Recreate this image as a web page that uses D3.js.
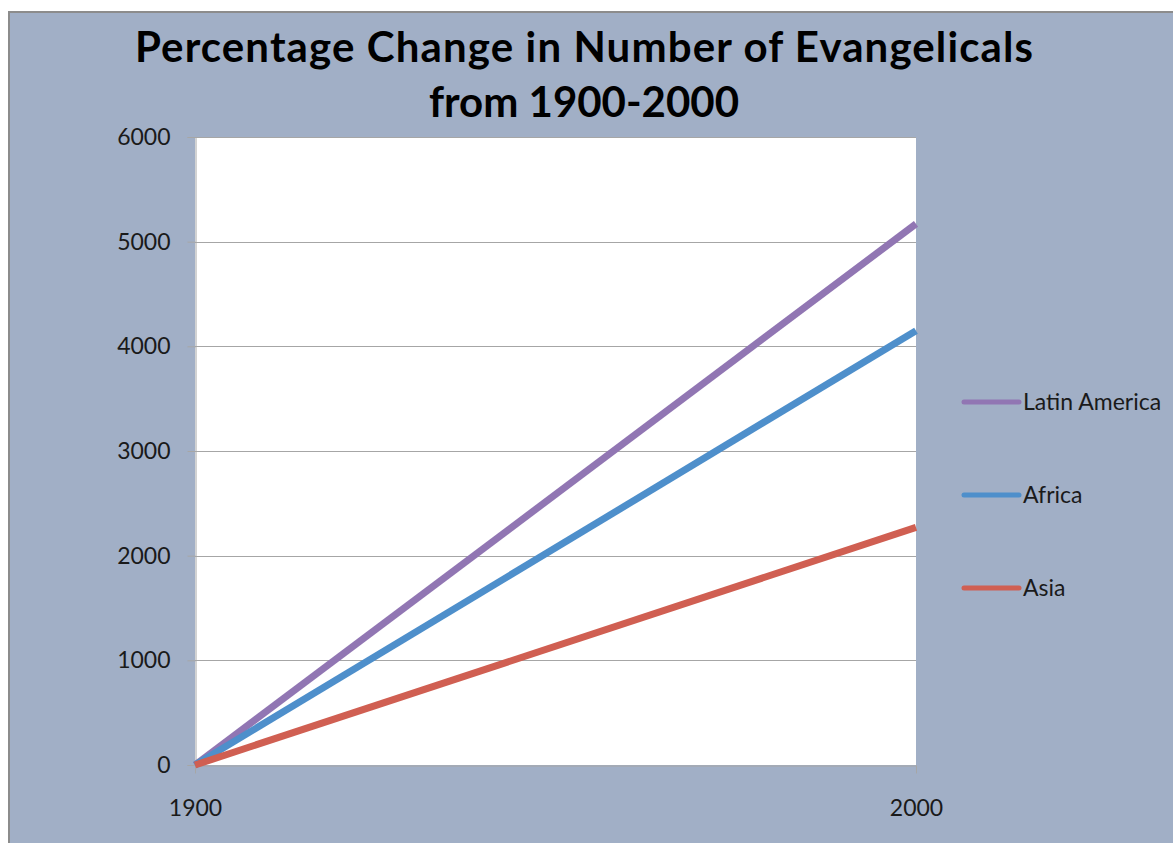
<!DOCTYPE html>
<html>
<head>
<meta charset="utf-8">
<script src="https://cdn.jsdelivr.net/npm/d3@7"></script>
<style>
  html, body { margin: 0; padding: 0; background: #fff; }
  svg text { font-family: Lato, "Open Sans", sans-serif; }
</style>
</head>
<body>
<script>
// data
const years = ["1900", "2000"];
const seriesNames = ["Latin America", "Africa", "Asia"];
const latinAmerica = [0, 5170];
const africa = [0, 4150];
const asia = [0, 2270];
const yTicks = [0, 1000, 2000, 3000, 4000, 5000, 6000];
const titleLines = ["Percentage Change in Number of Evangelicals", "from 1900-2000"];

const width = 1173, height = 843;
const plot = { left: 195, right: 916, top: 137, bottom: 765 };
const colors = ["#9176b3", "#4e8fcb", "#d05f52"];
const titleWidths = [898, 310];

const svg = d3.select("body").append("svg")
    .attr("width", width)
    .attr("height", height);

// chart background, the picture is cropped on right/bottom
svg.append("rect")
    .attr("x", 9).attr("y", 12)
    .attr("width", width).attr("height", height)
    .attr("fill", "#a1afc6")
    .attr("stroke", "#8c8c8c")
    .attr("stroke-width", 2);

// title
svg.append("g").selectAll("text")
    .data(titleLines)
    .join("text")
    .attr("x", 584)
    .attr("y", (d, i) => 62 + i * 55)
    .attr("text-anchor", "middle")
    .attr("font-size", 42)
    .attr("font-weight", "bold")
    .attr("textLength", (d, i) => titleWidths[i])
    .attr("lengthAdjust", "spacing")
    .attr("fill", "#000")
    .text(d => d);

const x = d3.scalePoint().domain(years).range([plot.left, plot.right]);
const y = d3.scaleLinear().domain([0, 6000]).range([plot.bottom, plot.top]);

svg.append("rect")
    .attr("x", plot.left).attr("y", plot.top)
    .attr("width", plot.right - plot.left)
    .attr("height", plot.bottom - plot.top)
    .attr("fill", "#fff");

// gridlines
svg.append("g")
    .selectAll("line")
    .data(yTicks.filter(d => d > 0))
    .join("line")
    .attr("x1", plot.left).attr("x2", plot.right)
    .attr("y1", d => Math.round(y(d)) + 0.5).attr("y2", d => Math.round(y(d)) + 0.5)
    .attr("stroke", "#a6a6a6");

// y axis
const yAxis = svg.append("g")
    .attr("transform", `translate(${plot.left + 0.5},0)`)
    .call(d3.axisLeft(y).tickValues(yTicks).tickSize(8).tickPadding(17).tickFormat(d3.format("d")));
yAxis.select(".domain").attr("stroke", "#a6a6a6");
yAxis.selectAll(".tick line").attr("stroke", "#a6a6a6");
yAxis.selectAll(".tick text")
    .attr("font-size", 23)
    .attr("fill", "#1a1a1a")
    .attr("font-family", "Lato, 'Open Sans', sans-serif");

// x axis
const xAxis = svg.append("g")
    .attr("transform", `translate(0,${plot.bottom + 0.5})`)
    .call(d3.axisBottom(x).tickSize(8).tickPadding(26).tickSizeOuter(0));
xAxis.select(".domain").attr("stroke", "#a6a6a6");
xAxis.selectAll(".tick line").attr("stroke", "#a6a6a6");
xAxis.selectAll(".tick text")
    .attr("font-size", 23)
    .attr("fill", "#1a1a1a")
    .attr("font-family", "Lato, 'Open Sans', sans-serif");

// series lines
const series = [latinAmerica, africa, asia];
const line = d3.line()
    .x((d, i) => x(years[i]))
    .y(d => y(d));

svg.append("g")
    .selectAll("path")
    .data(series)
    .join("path")
    .attr("d", d => line(d))
    .attr("fill", "none")
    .attr("stroke", (d, i) => colors[i])
    .attr("stroke-width", 7);

// legend
const legend = svg.append("g")
    .selectAll("g")
    .data(seriesNames)
    .join("g")
    .attr("transform", (d, i) => `translate(964, ${402 + i * 93})`);

legend.append("line")
    .attr("x1", 0).attr("x2", 55)
    .attr("stroke", (d, i) => colors[i])
    .attr("stroke-width", 5)
    .attr("stroke-linecap", "round");

legend.append("text")
    .attr("x", 59)
    .attr("dy", "0.35em")
    .attr("font-size", 23)
    .attr("fill", "#1a1a1a")
    .text(d => d);
</script>
</body>
</html>
